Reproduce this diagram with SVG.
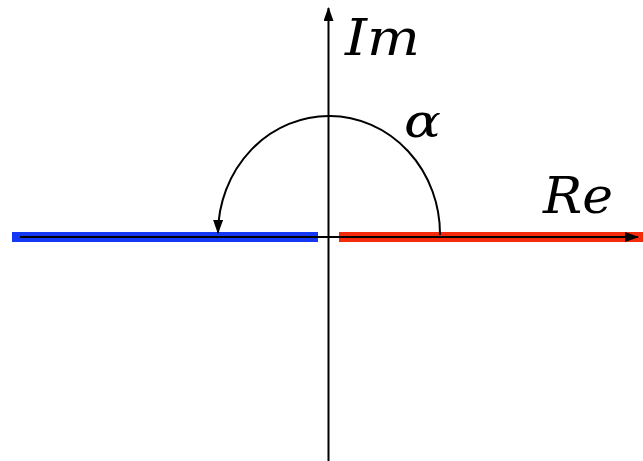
<svg xmlns="http://www.w3.org/2000/svg" width="643" height="461" viewBox="0 0 643 461">
<style>
.lbl{font-family:'DejaVu Serif',serif;font-style:italic;fill:#000}
.ax{stroke:#000;stroke-width:2;fill:none}
</style>
<defs>
<marker id="ah" viewBox="0 0 14 10" refX="13" refY="5" markerWidth="14" markerHeight="10" markerUnits="userSpaceOnUse" orient="auto">
<path d="M0,0 L14,5 L0,10 Z" fill="#000"/>
</marker>
</defs>
<rect width="643" height="461" fill="#fff"/>
<g id="bars">
<rect x="12" y="232" width="306" height="10" fill="#1538f5"/>
<rect x="339" y="232" width="304" height="10" fill="#f52a0a"/>
</g>
<g id="connectors">
<line class="ax" x1="20" y1="237" x2="638" y2="237" stroke-width="2.5" marker-end="url(#ah)"/>
<line class="ax" x1="328.5" y1="461" x2="328.5" y2="8" marker-end="url(#ah)"/>
<path class="ax" d="M440,235 A111,118 0 0 0 218,233" marker-end="url(#ah)"/>
</g>
<g id="labels">
<text class="lbl" x="345" y="55" font-size="50" textLength="75" lengthAdjust="spacingAndGlyphs">Im</text>
<text class="lbl" x="404" y="137" font-size="46" textLength="37" lengthAdjust="spacingAndGlyphs">α</text>
<text class="lbl" x="543" y="213" font-size="50" textLength="70" lengthAdjust="spacingAndGlyphs">Re</text>
</g>
</svg>
